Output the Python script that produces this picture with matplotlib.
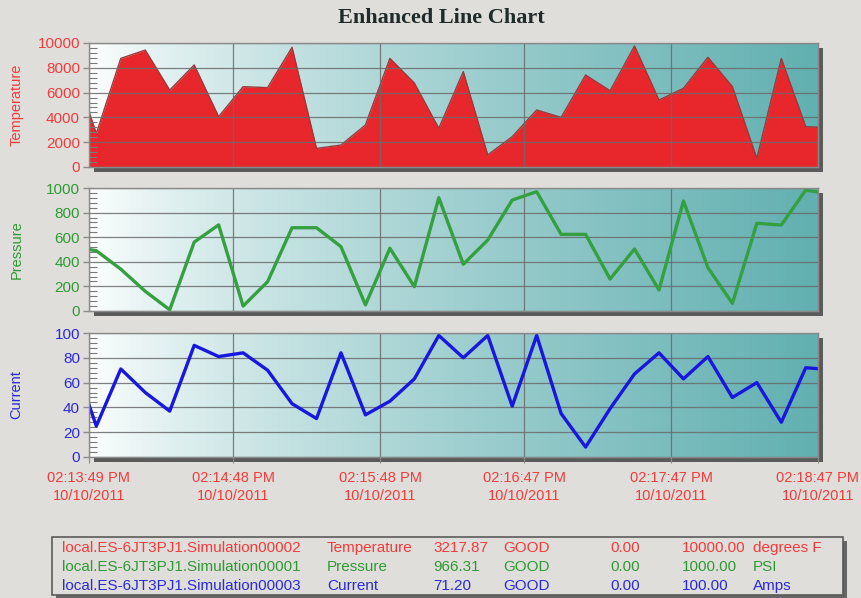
import matplotlib
matplotlib.use('Agg')
import matplotlib.pyplot as plt
import numpy as np
from matplotlib.ticker import AutoMinorLocator
from matplotlib.patches import Rectangle

# ---------------- data ----------------
seconds = [0, 3, 13, 23, 33, 43, 53, 63, 73, 83, 93, 103, 113, 123, 133, 143,
           153, 163, 173, 183, 193, 203, 213, 223, 233, 243, 253, 263, 273, 283, 293, 298]
temperature = [4460, 2700, 8760, 9430, 6200, 8230, 4060, 6480, 6400, 9650, 1500, 1770,
               3390, 8760, 6770, 3120, 7690, 970, 2450, 4600, 4000, 7420, 6150, 9760,
               5400, 6350, 8850, 6480, 700, 8760, 3250, 3217.87]
pressure = [500, 490, 340, 160, 10, 560, 700, 40, 238, 677, 677, 523, 50, 510, 198, 921,
            380, 577, 902, 970, 623, 623, 260, 504, 171, 894, 352, 62, 713, 699, 983, 966.31]
current = [42, 25, 71, 52, 37, 90, 81, 84, 70, 43, 31, 84, 34, 45, 63, 98, 80, 98, 41, 98,
           35, 8, 39, 67, 84, 63, 81, 48, 60, 28, 72, 71.2]

tick_seconds = [0, 59, 119, 178, 238, 298]
tick_labels = ["02:13:49 PM\n10/10/2011", "02:14:48 PM\n10/10/2011", "02:15:48 PM\n10/10/2011",
               "02:16:47 PM\n10/10/2011", "02:17:47 PM\n10/10/2011", "02:18:47 PM\n10/10/2011"]

series_names = ["Temperature", "Pressure", "Current"]
y_maxes = [10000, 1000, 100]
y_steps = [2000, 200, 20]

legend_tags = ["local.ES-6JT3PJ1.Simulation00002", "local.ES-6JT3PJ1.Simulation00001",
               "local.ES-6JT3PJ1.Simulation00003"]
legend_values = ["3217.87", "966.31", "71.20"]
legend_quality = ["GOOD", "GOOD", "GOOD"]
legend_lo = ["0.00", "0.00", "0.00"]
legend_hi = ["10000.00", "1000.00", "100.00"]
legend_units = ["degrees F", "PSI", "Amps"]

# ---------------- style ----------------
W, H = 862, 598
BG = '#e0deda'
RED_TXT = '#f03c3c'
GREEN_TXT = '#2f9a35'
BLUE_TXT = '#2a2ad8'
colors_txt = [RED_TXT, GREEN_TXT, BLUE_TXT]
FILL_RED = '#e8272d'
GREEN_LINE = '#35a040'
BLUE_LINE = '#1717e0'
FONT = 'Liberation Sans'

fig = plt.figure(figsize=(W / 100, H / 100), dpi=100, facecolor=BG)

panels = [(89, 43, 818, 167), (89, 188, 818, 311), (89, 333, 818, 457)]


def frac(l, t, r, b):
    return [l / W, 1 - b / H, (r - l) / W, (b - t) / H]


# gradient image
tg = np.linspace(0, 1, 400) ** 0.75
white = np.array([1.0, 1.0, 1.0])
teal = np.array([0x62, 0xb0, 0xb1]) / 255.0
grad = (white[None, :] * (1 - tg[:, None]) + teal[None, :] * tg[:, None])[None, :, :]

axes = []
for i, (l, t, r, b) in enumerate(panels):
    # shadow
    fig.patches.append(Rectangle(((l + 5) / W, 1 - (b + 5) / H), (r - l) / W, (b - t) / H,
                                 transform=fig.transFigure, facecolor='#5a5a5a',
                                 edgecolor='none', zorder=-1))
    ax = fig.add_axes(frac(l, t, r, b))
    ax.imshow(grad, extent=[0, 1, 0, 1], transform=ax.transAxes, aspect='auto',
              zorder=0, interpolation='bilinear')
    ax.set_xlim(0, 298)
    ax.set_ylim(0, y_maxes[i])
    ax.set_yticks(np.arange(0, y_maxes[i] + 1, y_steps[i]))
    ax.yaxis.set_minor_locator(AutoMinorLocator(5))
    ax.set_xticks(tick_seconds)
    ax.set_axisbelow('line')
    ax.grid(True, which='major', color='#6a6a6a', lw=0.9, alpha=0.85)
    for s in ax.spines.values():
        s.set_color('#8a8a8a')
        s.set_linewidth(1.0)
    ax.tick_params(axis='y', which='major', direction='out', length=4.5, width=1,
                   color='#8a8a8a', labelcolor=colors_txt[i], pad=2)
    ax.tick_params(axis='y', which='minor', direction='in', length=6, width=0.8,
                   color='#7a7a7a')
    for lab in ax.get_yticklabels():
        lab.set_fontfamily(FONT)
        lab.set_fontsize(11)
    ax.set_ylabel(series_names[i], color=colors_txt[i], fontsize=10.5, fontfamily=FONT)
    ax.yaxis.set_label_coords(-0.09, 0.5)
    axes.append(ax)

# temperature area
ax = axes[0]
ax.fill_between(seconds, temperature, 0, color=FILL_RED, zorder=1, lw=0)
ax.plot(seconds, temperature, color='#9a3a3a', lw=1.0, zorder=1.2)

# pressure line
axes[1].plot(seconds, pressure, color=GREEN_LINE, lw=2.4, zorder=2, solid_joinstyle='round')
# current line
axes[2].plot(seconds, current, color=BLUE_LINE, lw=2.4, zorder=2, solid_joinstyle='round')

for ax in axes[:2]:
    ax.tick_params(axis='x', which='both', length=0, labelbottom=False)
axes[2].set_xticklabels(tick_labels)
axes[2].tick_params(axis='x', direction='out', length=4, color='#8a8a8a',
                    labelcolor=RED_TXT, pad=6)
for lab in axes[2].get_xticklabels():
    lab.set_fontfamily(FONT)
    lab.set_fontsize(10.5)
    lab.set_linespacing(1.35)

# title
fig.text(441 / W, 1 - 18 / H, 'Enhanced Line Chart', ha='center', va='center',
         fontfamily='Liberation Serif', fontweight='bold', fontsize=16, color='#1f2b2b')

# legend box
bl, bt, br, bb = 52, 537, 843, 595
fig.patches.append(Rectangle(((bl + 4) / W, 1 - (bb + 4) / H), (br - bl) / W, (bb - bt) / H,
                             transform=fig.transFigure, facecolor='#666666',
                             edgecolor='none', zorder=1))
fig.patches.append(Rectangle((bl / W, 1 - bb / H), (br - bl) / W, (bb - bt) / H,
                             transform=fig.transFigure, facecolor=BG,
                             edgecolor='#5a5a5a', lw=1.2, zorder=2))
row_y = [548, 567, 586]
col_x = [62, 327, 433, 503, 610, 682, 753]
for r in range(3):
    cells = [legend_tags[r], series_names[r], legend_values[r], legend_quality[r],
             legend_lo[r], legend_hi[r], legend_units[r]]
    for cx, txt in zip(col_x, cells):
        fig.text(cx / W, 1 - row_y[r] / H, txt, ha='left', va='center', fontsize=11,
                 fontfamily=FONT, color=colors_txt[r], zorder=3)

fig.savefig('out.png', dpi=100, facecolor=BG)
